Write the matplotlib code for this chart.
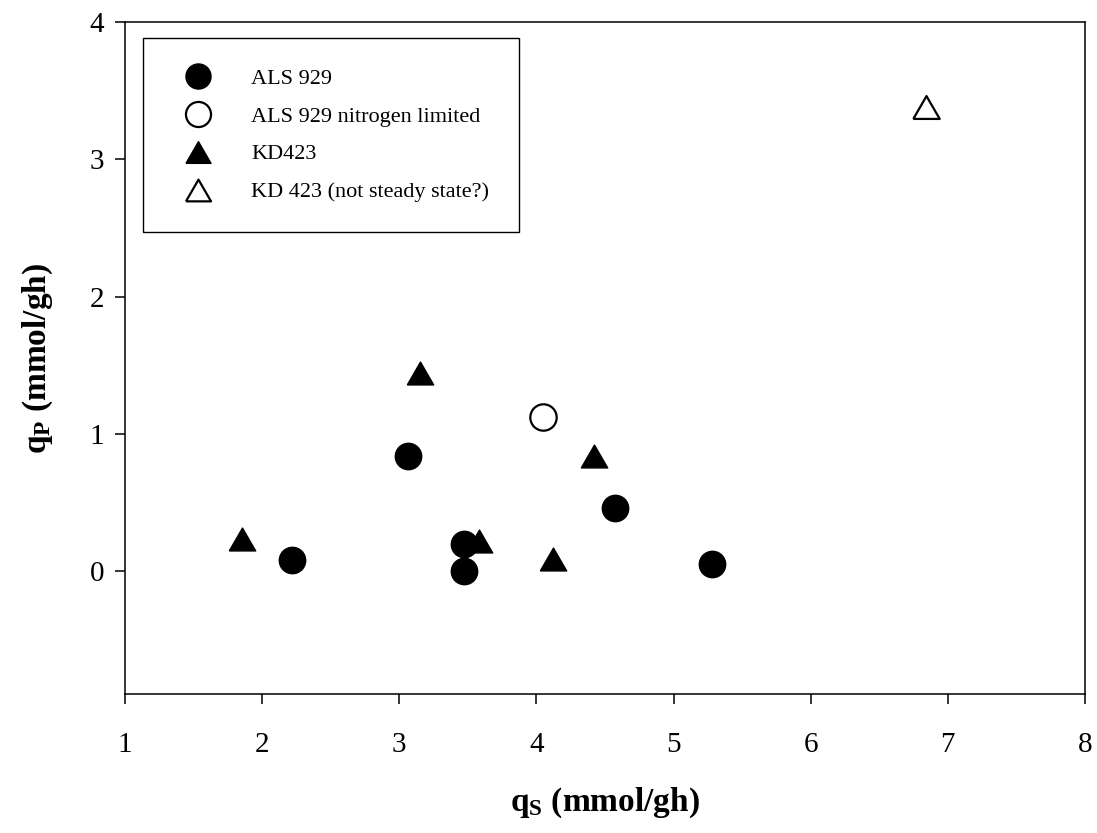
import matplotlib
matplotlib.use("Agg")
import matplotlib.pyplot as plt

# ALS 929 (filled circles)
als_x = [2.22, 3.06, 3.47, 3.47, 4.57, 5.28]
als_y = [0.08, 0.84, 0.20, 0.00, 0.46, 0.05]
# ALS 929 nitrogen limited (open circle)
als_n_x = [4.05]
als_n_y = [1.12]
# KD423 (filled triangles)
kd_x = [1.85, 3.15, 3.58, 4.12, 4.42]
kd_y = [0.23, 1.44, 0.22, 0.09, 0.84]
# KD 423 not steady state (open triangle)
kd_ns_x = [6.84]
kd_ns_y = [3.38]

labels = ["ALS 929", "ALS 929 nitrogen limited", "KD423", "KD 423 (not steady state?)"]
x_ticks = [1, 2, 3, 4, 5, 6, 7, 8]
y_ticks = [0, 1, 2, 3, 4]

plt.rcParams["font.family"] = ["Liberation Serif", "DejaVu Serif"]
plt.rcParams["mathtext.fontset"] = "custom"
plt.rcParams["mathtext.rm"] = "Liberation Serif"
plt.rcParams["mathtext.bf"] = "Liberation Serif:bold"
plt.rcParams["mathtext.it"] = "Liberation Serif:italic"

# equilateral triangle, centred on its bounding box
tri = [(-1, -0.866), (1, -0.866), (0, 0.866), (-1, -0.866)]

fig = plt.figure(figsize=(10.97, 8.33), dpi=100)
ax = fig.add_axes([125 / 1097, 1 - 694 / 833, 960 / 1097, 672 / 833])

ms = 19
ax.plot(kd_x, kd_y, ls="none", marker=tri, ms=ms, mfc="black", mec="black",
        mew=1.0, label=labels[2], zorder=3)
ax.plot(kd_ns_x, kd_ns_y, ls="none", marker=tri, ms=ms, mfc="white", mec="black",
        mew=1.6, label=labels[3], zorder=3)
ax.plot(als_x, als_y, ls="none", marker="o", ms=ms, mfc="black", mec="black",
        mew=1.0, label=labels[0], zorder=4)
ax.plot(als_n_x, als_n_y, ls="none", marker="o", ms=ms, mfc="white", mec="black",
        mew=1.6, label=labels[1], zorder=4)

ax.set_xlim(1, 8)
ax.set_ylim(-0.896, 4)
ax.set_xticks(x_ticks)
ax.set_yticks(y_ticks)
ax.tick_params(direction="out", length=7.2, width=1.1, labelsize=21)
ax.tick_params(axis="x", pad=20)
ax.tick_params(axis="y", pad=8)
for s in ax.spines.values():
    s.set_linewidth(1.1)

ax.set_xlabel(r"$\mathbf{q_S}$ (mmol/gh)", fontsize=24, fontweight="bold", labelpad=20)
ax.set_ylabel(r"$\mathbf{q_P}$ (mmol/gh)", fontsize=24, fontweight="bold", labelpad=25)

h, l = ax.get_legend_handles_labels()
order = [l.index(name) for name in labels]
leg = ax.legend([h[i] for i in order], [l[i] for i in order],
                loc="upper left", bbox_to_anchor=(0.019, 0.976), borderaxespad=0,
                fancybox=False, framealpha=1, edgecolor="black", fontsize=16,
                handlelength=2.25, handletextpad=1.27, labelspacing=0.78,
                borderpad=1.35, markerscale=0.95)
leg.get_frame().set_linewidth(1.0)

fig.savefig("out.png", dpi=100)
